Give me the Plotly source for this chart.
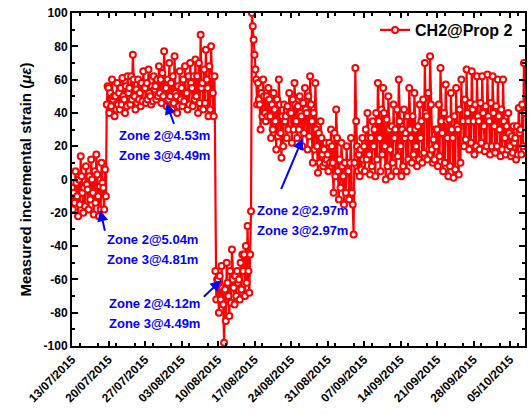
import pandas as pd
import plotly.graph_objects as go

# Readings every 4 hours starting 13/07/2015 00:00 (6 readings per day)
strain_wk1 = [-5, -18, -8, -14, 5, -2,  -10, -22, 0, -15, 14, 2,  -8, -20, -5, -16, 8, -3,
              -6, -18, 2, -12, 12, 0,  -8, -21, 5, -14, 15, 3,  -10, -22, -4, -18, 10, -2,
              -5, -18, 6, -10, 45, 56]
strain_wk2 = [55, 40, 52, 44, 60, 48,  50, 38, 50, 42, 58, 45,  52, 42, 55, 45, 61, 50,
              48, 40, 56, 44, 62, 52,  55, 45, 62, 48, 75, 60,  50, 42, 54, 46, 60, 48,
              52, 44, 58, 47, 65, 55]
strain_wk3 = [55, 46, 58, 48, 66, 52,  50, 45, 56, 47, 62, 54,  56, 48, 60, 50, 68, 52,
              60, 46, 64, 50, 77, 55,  55, 44, 60, 48, 70, 50,  58, 42, 62, 46, 74, 52,
              50, 40, 56, 44, 65, 48]
strain_wk4 = [55, 44, 60, 47, 68, 52,  52, 42, 62, 45, 70, 58,  55, 44, 62, 48, 72, 50,
              62, 40, 70, 46, 87, 55,  58, 42, 66, 46, 78, 60,  55, 38, 68, 42, 80, 62,
              52, 38, 62, -55, -72, -60]
strain_wk5 = [-60, -80, -58, -72, -52, -65,  -75, -98, -66, -85, -50, -62,
              -70, -82, -55, -74, -42, -60,  -65, -75, -58, -70, -55, -62,
              -60, -72, -50, -66, -45, -55,  -45, -70, -40, -62, -28, -55,
              -68, -45, -19, 100, 92, 84]
strain_wk6 = [75, 66, 60, 45, 58, 48,  45, 30, 52, 38, 60, 50,  40, 35, 50, 38, 55, 48,
              38, 25, 45, 30, 52, 42,  35, 18, 48, 26, 60, 45,  28, 13, 38, 20, 45, 35,
              38, 25, 44, 30, 52, 40]
strain_wk7 = [40, 22, 48, 30, 58, 45,  35, 25, 44, 30, 50, 40,  38, 20, 46, 28, 55, 42,
              40, 18, 50, 26, 62, 45,  35, 10, 40, 18, 58, 30,  20, 4, 28, 10, 35, 25,
              15, 8, 18, 10, 22, 12]
strain_wk8 = [15, 5, 22, 10, 30, 20,  10, -8, 28, 2, 42, 25,  5, -12, 12, -5, 22, 8,
              2, -15, 10, -8, 20, 5,  5, -12, 10, 25, -8, -15,  -33, 10, 67, 35, 20, 5,
              15, 2, 18, 6, 25, 12]
strain_wk9 = [20, 5, 30, 12, 40, 25,  15, 3, 25, 8, 35, 20,  30, 2, 40, 12, 58, 35,
              25, 5, 42, 15, 55, 40,  20, 0, 36, 8, 50, 30,  18, 2, 32, 10, 45, 25,
              30, 5, 42, 14, 60, 35]
strain_wk10 = [20, 2, 30, 8, 42, 25,  28, 5, 38, 12, 55, 30,  25, 10, 38, 15, 52, 30,
               20, 8, 32, 12, 45, 25,  35, 10, 48, 16, 70, 40,  38, 12, 52, 18, 74, 45,
               18, 10, 24, 12, 30, 20]
strain_wk11 = [30, 8, 45, 14, 67, 35,  28, 5, 40, 10, 57, 35,  25, 2, 36, 8, 52, 30,
               25, 1, 38, 6, 55, 32,  30, 3, 42, 10, 60, 35,  35, 20, 48, 24, 66, 40,
               35, 18, 46, 22, 65, 42]
strain_wk12 = [35, 15, 45, 20, 62, 38,  35, 18, 46, 22, 62, 40,  32, 17, 44, 20, 63, 38,
               35, 15, 46, 20, 62, 40,  32, 16, 44, 20, 60, 38,  30, 14, 42, 18, 60, 35,
               25, 15, 32, 18, 40, 28]
strain_wk13 = [20, 14, 26, 16, 32, 22,  25, 12, 32, 15, 43, 28,  30, 15, 45, 20, 70, 40]

series_name = "CH2@Prop 2"
start_time = "2015-07-13 00:00"
sample_step = "4h"
x_range = ["2015-07-13 00:00", "2015-10-07 21:00"]
y_tick_vals = [-100, -80, -60, -40, -20, 0, 20, 40, 60, 80, 100]
y_tick_text = ["-100", "-80", "-60", "-40", "-20", "0", "20", "40", "60", "80", "100"]

# annotations: (arrow tip time, tip value, ax, ay, line1, line2, text x px, text y px)
zone_notes = [
    ("2015-07-31 03:00", 45.8, 8, 22, "Zone 2@4.53m", "Zone 3@4.49m", 164.5, 135),
    ("2015-07-18 10:00", -18.5, 5, 22, "Zone 2@5.04m", "Zone 3@4.81m", 152.7, 239.3),
    ("2015-08-10 15:00", -60.5, -19, 18, "Zone 2@4.12m", "Zone 3@4.49m", 155.0, 303.3),
    ("2015-08-26 05:00", 24.6, -22, 52, "Zone 2@2.97m", "Zone 3@2.97m", 303.8, 210.0),
]

strain = (strain_wk1 + strain_wk2 + strain_wk3 + strain_wk4 + strain_wk5 + strain_wk6 +
          strain_wk7 + strain_wk8 + strain_wk9 + strain_wk10 + strain_wk11 + strain_wk12 +
          strain_wk13)
times = pd.date_range(start=start_time, periods=len(strain), freq=sample_step)

W, H = 530, 415
ML, MR, MT, MB = 72, 3, 13, 69
PW, PH = W - ML - MR, H - MT - MB
FONT = "Liberation Sans, Arial, sans-serif"

fig = go.Figure()
fig.add_trace(go.Scatter(
    x=times, y=strain, mode="lines+markers", name=series_name,
    line=dict(color="#FF0000", width=2.2),
    marker=dict(symbol="circle", size=6, color="white",
                line=dict(color="#FF0000", width=2)),
))

annotations = []
for tip_t, tip_v, ax, ay, l1, l2, tx, ty in zone_notes:
    annotations.append(dict(
        x=tip_t, y=tip_v, xref="x", yref="y", text="", showarrow=True,
        ax=ax, ay=ay, axref="pixel", ayref="pixel",
        arrowcolor="#0000FF", arrowwidth=2, arrowhead=2, arrowsize=1.1,
    ))
    for k, line_text in enumerate([l1, l2]):
        annotations.append(dict(
            x=(tx - ML) / PW, y=(MT + PH - (ty + 20 * k)) / PH,
            xref="paper", yref="paper", text=line_text, showarrow=False,
            xanchor="center", yanchor="middle",
            font=dict(family=FONT, size=13, color="#0000FF", weight="bold"),
        ))

axis_common = dict(
    showline=True, linecolor="black", linewidth=2, mirror="ticks",
    ticks="inside", tickcolor="black", tickwidth=1.5, showgrid=False, zeroline=False,
    tickfont=dict(family=FONT, size=12, color="black", weight="bold"),
)

fig.update_xaxes(
    **axis_common, type="date", range=x_range,
    tick0="2015-07-13", dtick=7 * 24 * 3600 * 1000, tickformat="%d/%m/%Y",
    tickangle=-45, ticklen=5,
    minor=dict(ticks="inside", ticklen=3, tickwidth=1.5, tickcolor="black",
               dtick=3.5 * 24 * 3600 * 1000, showgrid=False),
)
fig.update_yaxes(
    **axis_common, range=[-100, 100], tickvals=y_tick_vals, ticktext=y_tick_text,
    ticklen=6,
    minor=dict(ticks="inside", ticklen=3, tickwidth=1.5, tickcolor="black",
               dtick=10, showgrid=False),
    title=dict(text="Measured incremental strain (<i>με</i>)", standoff=8,
               font=dict(family=FONT, size=15, color="black", weight="bold")),
)

fig.update_layout(
    width=W, height=H, margin=dict(l=ML, r=MR, t=MT, b=MB),
    plot_bgcolor="white", paper_bgcolor="white",
    showlegend=True,
    legend=dict(x=(520 - ML) / PW, y=(MT + PH - 30) / PH, xanchor="right", yanchor="middle",
                bgcolor="rgba(0,0,0,0)", borderwidth=0,
                font=dict(family=FONT, size=16, color="black", weight="bold")),
    annotations=annotations,
)

fig.write_html("out.html")
